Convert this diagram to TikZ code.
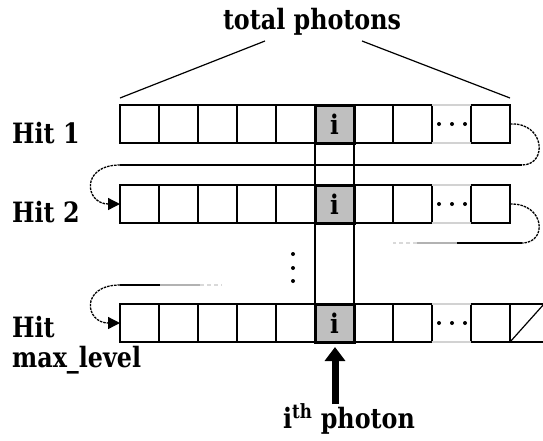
\documentclass[tikz,border=0pt]{standalone}
\usepackage{fontspec}
\setmainfont{DejaVu Serif}[FakeStretch=0.85]
\usetikzlibrary{arrows.meta}
\begin{document}
\begin{tikzpicture}[x=1pt,y=-1pt,
  every node/.style={font=\fontsize{28}{32}\selectfont\bfseries},
  cellbox/.style={draw, line width=1.6pt, minimum width=39pt, minimum height=38pt, inner sep=0pt, outer sep=0pt, anchor=north west},
  gapbox/.style={minimum width=39pt, minimum height=38pt, inner sep=0pt, outer sep=0pt, anchor=north west},
  icell/.style={draw, line width=3pt, fill=gray!50, minimum width=39pt, minimum height=38pt, inner sep=0pt, outer sep=0pt, anchor=north west},
  itext/.style={inner sep=0pt, font=\fontsize{27}{30}\selectfont\bfseries},
  gapline/.style={line width=1.6pt, gray!35},
  loopline/.style={line width=1.3pt, dash pattern=on 2.5pt off 1pt},
  plain/.style={line width=1.6pt},
  tipA/.style={-{Triangle[length=12pt,width=12pt]}},
  lbl/.style={anchor=base west, inner sep=0pt}]
\useasboundingbox (0,0) rectangle (543,440);
% rows of cells
\foreach \r/\y in {1/105,2/185,3/304} {
  \foreach \k in {0,...,7,9} {
    \node[cellbox] (r\r-\k) at ({120+39*\k},\y) {};
  }
  \node[gapbox] (r\r-8) at (432,\y) {};
  \draw[gapline] (r\r-8.north west) -- (r\r-8.north east);
  \draw[gapline] (r\r-8.south west) -- (r\r-8.south east);
  \foreach \dx in {7,20,33} {
    \fill ([xshift=\dx pt]r\r-8.west) circle (2pt);
  }
}
% null cell
\node[cellbox] (r3-10) at (510,304) {};
\coordinate (nulltop) at (544,304);
\draw[line width=1.2pt] (r3-10.south west) -- (nulltop);
% i column
\node[icell] (i1) at (315,105) {};
\node[icell] (i2) at (315,185) {};
\node[icell] (i3) at (315,304) {};
\draw[line width=2pt] (i1.north west) -- (i3.south west);
\draw[line width=2pt] (i1.north east) -- (i3.south east);
\node[icell] (i1b) at (315,105) {};
\node[icell] (i2b) at (315,185) {};
\node[icell] (i3b) at (315,304) {};
\node[itext] (t1) at (i1b.center) {i};
\node[itext] (t2) at (i2b.center) {i};
\node[itext] (t3) at (i3b.center) {i};
% labels
\node[lbl] (hit1) at (12,143) {Hit 1};
\node[lbl] (hit2) at (12,222) {Hit 2};
\node[lbl] (hit3) at (12,337) {Hit};
\node[lbl] (maxl) at (12,367) {max\_level};
% title
\node[anchor=base, inner sep=0pt] (title) at (312,29) {total photons};
\coordinate (bl) at (120,98);
\coordinate (br) at (510,98);
\coordinate (tl) at (265,41);
\coordinate (tr) at (362,41);
\draw[line width=1.2pt] (bl) -- (tl);
\draw[line width=1.2pt] (tr) -- (br);
% loop row1 -> row2
\coordinate (a1) at (522,165);
\coordinate (b1) at (120,165);
\draw[loopline] (r1-9.east) .. controls (545,122) and (548,165) .. (a1);
\draw[plain] (a1) -- (b1);
\draw[loopline, tipA] (b1) .. controls (80,165) and (85,204) .. (r2-0.west);
% loop row2 -> ...
\coordinate (a2) at (522,243);
\coordinate (a2m) at (457,243);
\coordinate (a2n) at (417,243);
\coordinate (a2e) at (393,243);
\draw[loopline] (r2-9.east) .. controls (545,203) and (548,243) .. (a2);
\draw[plain] (a2) -- (a2m);
\draw[plain, gray!60] (a2m) -- (a2n);
\draw[plain, gray!30, dash pattern=on 4pt off 3pt] (a2n) -- (a2e);
% ... -> row3
\coordinate (b3) at (120,285);
\coordinate (b3m) at (160,285);
\coordinate (b3n) at (200,285);
\coordinate (b3e) at (222,285);
\draw[plain, gray!30, dash pattern=on 4pt off 3pt] (b3n) -- (b3e);
\draw[plain, gray!60] (b3m) -- (b3n);
\draw[plain] (b3) -- (b3m);
\draw[loopline, tipA] (b3) .. controls (80,285) and (85,323) .. (r3-0.west);
% vertical dots
\foreach \yy in {254,268,281} { \fill (293,\yy) circle (2pt); }
% ith photon
\node[anchor=base, inner sep=0pt] (photon) at (349,428) {i\textsuperscript{th} photon};
\coordinate (arrB) at (335,404);
\coordinate (arrT) at (335,347);
\draw[line width=7pt, -{Triangle[length=14pt,width=20pt]}] (arrB) -- (arrT);
\end{tikzpicture}
\end{document}
